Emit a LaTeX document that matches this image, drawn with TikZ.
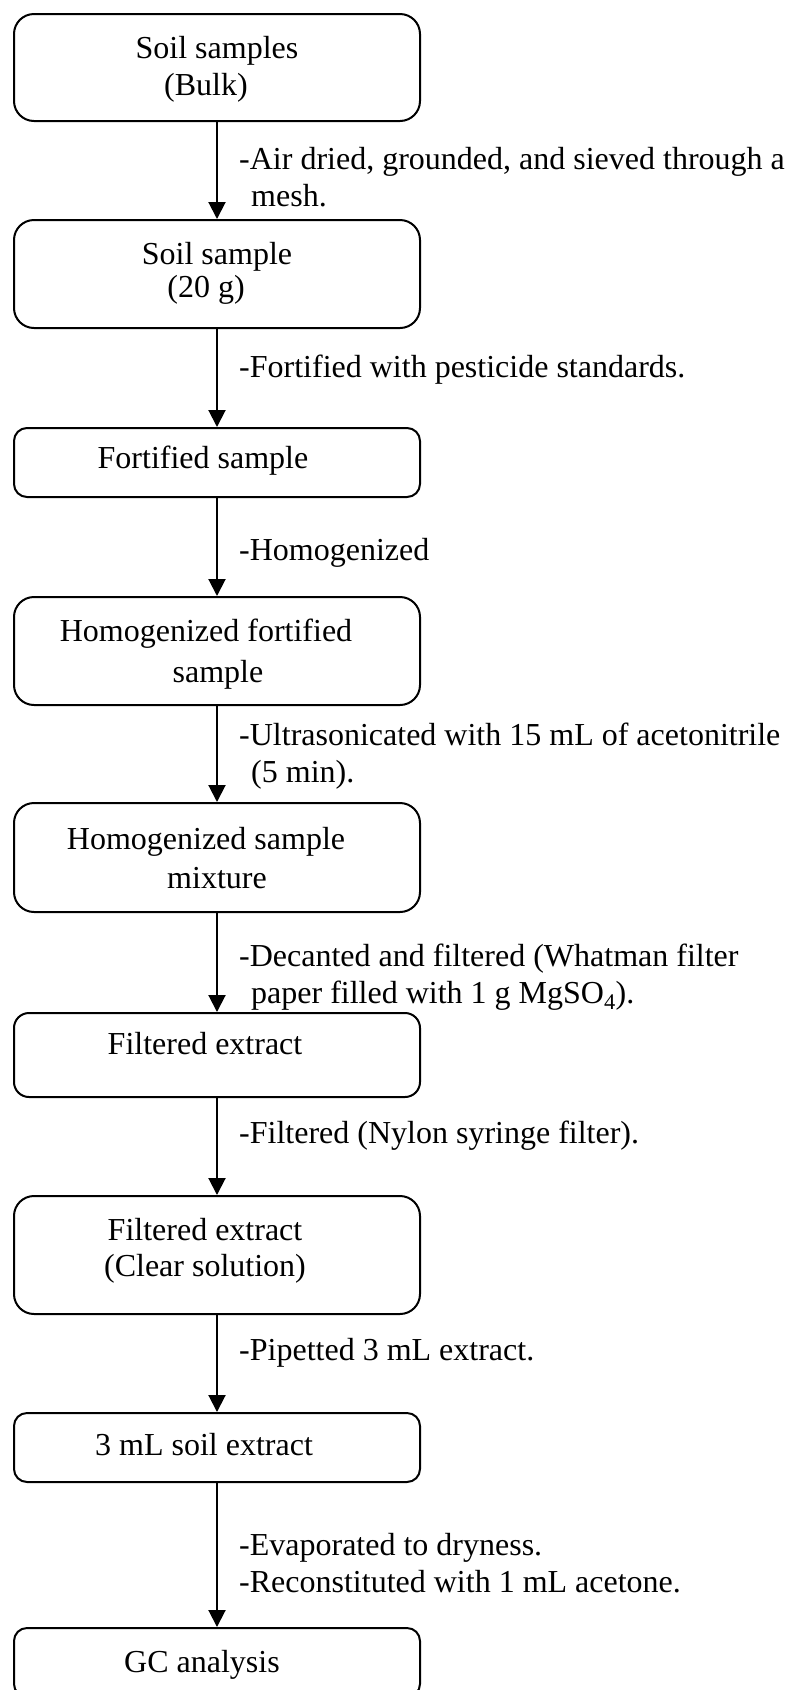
\documentclass[tikz,border=0pt]{standalone}
\usepackage{fontspec}
\setmainfont{Liberation Serif}
\usetikzlibrary{arrows.meta}
\begin{document}
\begin{tikzpicture}[x=1pt,y=-1pt,
  boxa/.style={draw,line width=2pt,rounded corners=20pt,minimum width=406pt,inner sep=0pt},
  boxb/.style={draw,line width=2pt,rounded corners=13pt,minimum width=406pt,inner sep=0pt},
  txt/.style={anchor=base,inner sep=0pt,font=\fontsize{32}{37}\selectfont},
  lbl/.style={anchor=base west,inner sep=0pt,align=left,font=\fontsize{32}{37}\selectfont},
  arr/.style={line width=2pt,-{Triangle[width=17pt,length=17pt]}}]
\useasboundingbox (0,0) rectangle (789,1690);
\clip (0,0) rectangle (789,1690);
% boxes
\node[boxa,minimum height=107pt] (b1) at (217,67.5) {};
\node[boxa,minimum height=108pt] (b2) at (217,274) {};
\node[boxb,minimum height=69pt]  (b3) at (217,462.5) {};
\node[boxa,minimum height=108pt] (b4) at (217,651) {};
\node[boxa,minimum height=109pt] (b5) at (217,857.5) {};
\node[boxb,minimum height=84pt,rounded corners=15pt] (b6) at (217,1055) {};
\node[boxa,minimum height=118pt] (b7) at (217,1255) {};
\node[boxb,minimum height=69pt]  (b8) at (217,1447.5) {};
\node[boxb,minimum height=69pt]  (b9) at (217,1662.5) {};
% box texts
\node[txt] (t1a) at (217,58) {Soil samples};
\node[txt] (t1b) at (206,95) {(Bulk)};
\node[txt] (t2a) at (217,264) {Soil sample};
\node[txt] (t2b) at (206,297) {(20 g)};
\node[txt] (t3) at (203,468) {Fortified sample};
\node[txt] (t4a) at (206,641) {Homogenized fortified};
\node[txt] (t4b) at (218,682) {sample};
\node[txt] (t5a) at (206,849) {Homogenized sample};
\node[txt] (t5b) at (217,888) {mixture};
\node[txt] (t6) at (205,1054) {Filtered extract};
\node[txt] (t7a) at (205,1240) {Filtered extract};
\node[txt] (t7b) at (205,1276) {(Clear solution)};
\node[txt] (t8) at (204,1455) {3 mL soil extract};
\node[txt] (t9) at (202,1672) {GC analysis};
% arrows
\draw[arr] (b1.south) -- (b2.north);
\draw[arr] (b2.south) -- (b3.north);
\draw[arr] (b3.south) -- (b4.north);
\draw[arr] (b4.south) -- (b5.north);
\draw[arr] (b5.south) -- (b6.north);
\draw[arr] (b6.south) -- (b7.north);
\draw[arr] (b7.south) -- (b8.north);
\draw[arr] (b8.south) -- (b9.north);
% labels (anchor at baseline of last line)
\node[lbl] (l1) at (239,206) {-Air dried, grounded, and sieved through a\\\hspace*{12pt}mesh.};
\node[lbl] (l2) at (239,377) {-Fortified with pesticide standards.};
\node[lbl] (l3) at (239,560) {-Homogenized};
\node[lbl] (l4) at (239,782) {-Ultrasonicated with 15 mL of acetonitrile\\\hspace*{12pt}(5 min).};
\node[lbl] (l5) at (239,1003) {-Decanted and filtered (Whatman filter\\\hspace*{12pt}paper filled with 1 g MgSO\textsubscript{4}).};
\node[lbl] (l6) at (239,1143) {-Filtered (Nylon syringe filter).};
\node[lbl] (l7) at (239,1360) {-Pipetted 3 mL extract.};
\node[lbl] (l8) at (239,1592) {-Evaporated to dryness.\\-Reconstituted with 1 mL acetone.};
\end{tikzpicture}
\end{document}
